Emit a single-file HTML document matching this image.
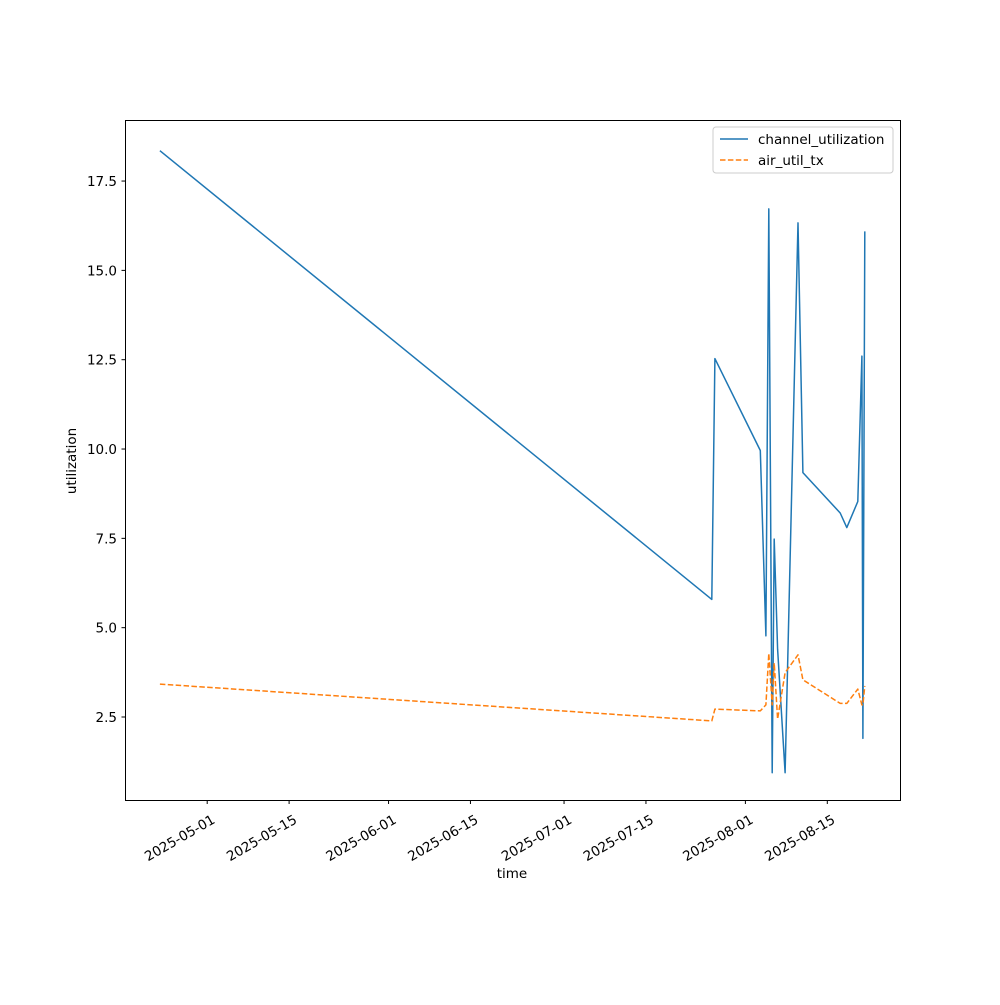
<!DOCTYPE html>
<html><head><meta charset="utf-8"><style>
body{margin:0;background:#fff;}
svg text{font-family:"DejaVu Sans","Liberation Sans",sans-serif;fill:#000;}
</style></head><body>
<svg id="chart" width="1000" height="1000" xmlns="http://www.w3.org/2000/svg">
<rect width="1000" height="1000" fill="#fff"/>
<g id="marks"></g>
<rect x="125.5" y="120.5" width="775" height="680" fill="none" stroke="#000" stroke-width="1"/>
<g id="axes"></g>
<text x="512" y="878" font-size="13.5" text-anchor="middle">time</text>
<text transform="translate(76,461) rotate(-90)" font-size="13.5" text-anchor="middle">utilization</text>
<g>
<rect x="713" y="127" width="180" height="46" rx="3" fill="#fff" stroke="#ccc"/>
<line x1="720" y1="139" x2="748" y2="139" stroke="#1f77b4" stroke-width="1.5"/>
<text x="758" y="144" font-size="13.5">channel_utilization</text>
<line x1="720" y1="160" x2="748" y2="160" stroke="#ff7f0e" stroke-width="1.5" stroke-dasharray="5.5,2.4"/>
<text x="758" y="165" font-size="13.5">air_util_tx</text>
</g>
</svg>
<script>
const times = ["2025-04-22T22:00","2025-07-26T06:00","2025-07-26T19:00","2025-08-03T13:00","2025-08-04T12:00","2025-08-05T00:00","2025-08-05T14:00","2025-08-05T22:00","2025-08-06T12:00","2025-08-07T19:00","2025-08-10T00:00","2025-08-10T20:00","2025-08-17T05:00","2025-08-18T08:00","2025-08-20T05:00","2025-08-20T22:00","2025-08-21T02:00","2025-08-21T10:00"];
const channelUtilization = [18.35,5.79,12.53,9.96,4.77,16.72,0.94,7.48,4.4,0.94,16.33,9.34,8.21,7.8,8.53,12.6,1.9,16.09];
const airUtilTx = [3.42,2.39,2.72,2.67,2.84,4.28,2.84,4.01,2.44,3.74,4.24,3.54,2.88,2.88,3.28,2.84,2.84,3.37];
const xTickLabels = ["2025-05-01","2025-05-15","2025-06-01","2025-06-15","2025-07-01","2025-07-15","2025-08-01","2025-08-15"];
const yTickValues = [2.5,5.0,7.5,10.0,12.5,15.0,17.5];

const NS="http://www.w3.org/2000/svg";
const t0=Date.parse("2025-05-01T00:00Z"), DAY=86400000;
function xScale(s){return 207.2+(Date.parse(s+(s.length>10?"Z":"T00:00Z"))-t0)/DAY*5.85;}
function yScale(v){return 717-(v-2.5)*35.73;}
const marks=document.getElementById("marks"), axes=document.getElementById("axes");
function line(vals,color,dash,name){
  const p=document.createElementNS(NS,"polyline");
  p.setAttribute("points",vals.map((v,i)=>xScale(times[i]).toFixed(1)+","+yScale(v).toFixed(1)).join(" "));
  p.setAttribute("fill","none");p.setAttribute("stroke",color);p.setAttribute("stroke-width","1.5");
  p.setAttribute("stroke-linejoin","round");
  if(dash)p.setAttribute("stroke-dasharray",dash);
  
  
  marks.appendChild(p);
}
line(channelUtilization,"#1f77b4",null,"channel-utilization-line");
line(airUtilTx,"#ff7f0e","5.5,2.4","air-util-tx-line");
xTickLabels.forEach(l=>{
  const x=xScale(l);
  const t=document.createElementNS(NS,"line");
  t.setAttribute("x1",x);t.setAttribute("x2",x);t.setAttribute("y1",800.5);t.setAttribute("y2",804);t.setAttribute("stroke","#000");
  
  
  axes.appendChild(t);
  const tx=document.createElementNS(NS,"text");
  tx.setAttribute("transform","translate("+(x+4)+",814) rotate(-30)");
  tx.setAttribute("text-anchor","end");tx.setAttribute("font-size","13.5");tx.setAttribute("dominant-baseline","hanging");
  tx.textContent=l;
  
  
  axes.appendChild(tx);
});
yTickValues.forEach(v=>{
  const y=yScale(v);
  const t=document.createElementNS(NS,"line");
  t.setAttribute("x1",121.5);t.setAttribute("x2",125.5);t.setAttribute("y1",y);t.setAttribute("y2",y);t.setAttribute("stroke","#000");
  
  
  axes.appendChild(t);
  const tx=document.createElementNS(NS,"text");
  tx.setAttribute("x",117);tx.setAttribute("y",y+5);tx.setAttribute("text-anchor","end");tx.setAttribute("font-size","13.5");
  tx.textContent=v.toFixed(1);
  
  
  axes.appendChild(tx);
});
</script>
</body></html>
